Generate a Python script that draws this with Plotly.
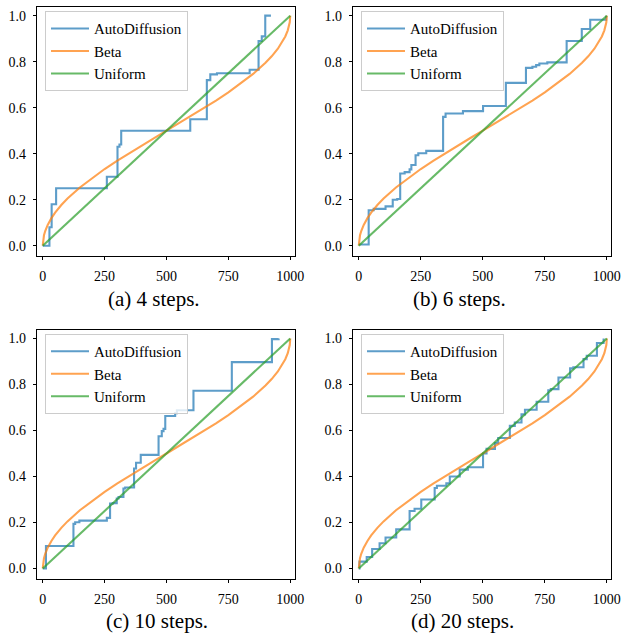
import plotly.graph_objects as go

# ---------------- data ----------------
captions = ["(a) 4 steps.", "(b) 6 steps.", "(c) 10 steps.", "(d) 20 steps."]
series_names = ["AutoDiffusion", "Beta", "Uniform"]

ad4_x = [0, 27, 36, 54, 259, 302, 310, 317, 596, 663, 677, 704, 836, 872, 885, 899, 922]
ad4_y = [0, 0.08, 0.18, 0.25, 0.30, 0.43, 0.44, 0.50, 0.55, 0.72, 0.745, 0.75, 0.765, 0.89, 0.91, 1.0, 1.0]

ad6_x = [0, 40, 60, 108, 137, 155, 167, 185, 205, 212, 229, 240, 272, 340, 350, 420, 501, 593, 674, 700, 715, 728, 760, 838, 899, 933, 997]
ad6_y = [0.005, 0.154, 0.16, 0.171, 0.20, 0.203, 0.314, 0.32, 0.332, 0.351, 0.393, 0.402, 0.412, 0.56, 0.575, 0.585, 0.607, 0.708, 0.773, 0.778, 0.785, 0.792, 0.797, 0.89, 0.942, 0.982, 1.0]

ad10_x = [0, 13, 124, 131, 148, 259, 272, 283, 299, 306, 326, 333, 369, 377, 396, 468, 481, 488, 495, 535, 542, 609, 764, 926, 953]
ad10_y = [0, 0.098, 0.194, 0.201, 0.208, 0.22, 0.282, 0.284, 0.304, 0.311, 0.348, 0.352, 0.435, 0.46, 0.494, 0.575, 0.597, 0.607, 0.663, 0.675, 0.688, 0.773, 0.897, 0.997, 1.0]

ad20_x = [0, 3, 32, 54, 84, 108, 151, 205, 225, 252, 306, 315, 353, 367, 407, 440, 501, 515, 549, 562, 609, 629, 656, 670, 717, 764, 774, 805, 852, 865, 906, 919, 960, 987]
ad20_y = [0, 0.03, 0.05, 0.085, 0.11, 0.135, 0.17, 0.25, 0.26, 0.30, 0.35, 0.36, 0.37, 0.40, 0.43, 0.44, 0.50, 0.52, 0.545, 0.567, 0.62, 0.635, 0.67, 0.69, 0.725, 0.775, 0.78, 0.83, 0.87, 0.875, 0.91, 0.925, 0.98, 1.0]

beta_x = [0, 2, 5, 10, 20, 35, 50, 75, 100, 150, 200, 250, 300, 350, 400, 450, 500,
          550, 600, 650, 700, 750, 800, 850, 900, 925, 950, 965, 980, 990, 995, 998, 1000]
beta_y = [0, 0.0285, 0.0451, 0.0638, 0.0903, 0.1198, 0.1436, 0.1766, 0.2048, 0.2532, 0.2952, 0.3333, 0.3690, 0.4030, 0.4359, 0.4681, 0.5,
          0.5319, 0.5641, 0.5970, 0.6310, 0.6667, 0.7048, 0.7468, 0.7952, 0.8234, 0.8564, 0.8802, 0.9097, 0.9362, 0.9549, 0.9715, 1.0]

uni_x = [0, 1000]
uni_y = [0, 1]

x_ticks = [0, 250, 500, 750, 1000]
y_ticks = [0.0, 0.2, 0.4, 0.6, 0.8, 1.0]

ad_x = [ad4_x, ad6_x, ad10_x, ad20_x]
ad_y = [ad4_y, ad6_y, ad10_y, ad20_y]

# ---------------- layout ----------------
W, H = 627, 640
FONT = "Liberation Serif, Times New Roman, serif"
colors = ["rgba(31,119,180,0.72)", "rgba(255,127,14,0.72)", "rgba(44,160,44,0.72)"]

# panel frames in pixels (left, right, top, bottom)
frames = [(37.3, 294.7, 6.7, 255.7), (353.3, 611.3, 6.7, 255.7),
          (37.3, 294.7, 329.5, 578.5), (353.3, 611.3, 329.5, 578.5)]
cap_pos = [(153.5, 299), (459.6, 299), (157, 621), (462.5, 621)]

fig = go.Figure()
layout = dict(width=W, height=H, margin=dict(l=0, r=0, t=0, b=0, autoexpand=False),
              plot_bgcolor="white", paper_bgcolor="white",
              font=dict(family=FONT, color="black"), annotations=[])

for i in range(4):
    k = "" if i == 0 else str(i + 1)
    xa, ya = "x" + k, "y" + k
    lg = "legend" + k
    fig.add_trace(go.Scatter(x=ad_x[i], y=ad_y[i], mode="lines", line=dict(color=colors[0], width=2.1, shape="hv"),
                             name=series_names[0], xaxis=xa, yaxis=ya, legend=lg))
    fig.add_trace(go.Scatter(x=beta_x, y=beta_y, mode="lines", line=dict(color=colors[1], width=2.1),
                             name=series_names[1], xaxis=xa, yaxis=ya, legend=lg))
    fig.add_trace(go.Scatter(x=uni_x, y=uni_y, mode="lines", line=dict(color=colors[2], width=2.1),
                             name=series_names[2], xaxis=xa, yaxis=ya, legend=lg))
    l, r, t, b = frames[i]
    common = dict(showline=True, mirror=True, linecolor="black", linewidth=1, showgrid=False, zeroline=False,
                  ticks="outside", ticklen=3.5, tickwidth=0.8, tickcolor="black",
                  tickfont=dict(family=FONT, size=14, color="black"))
    layout["xaxis" + k] = dict(domain=[l / W, r / W], range=[-22, 1018], tickvals=x_ticks,
                               anchor=ya, ticklabelstandoff=4, **common)
    layout["yaxis" + k] = dict(domain=[1 - b / H, 1 - t / H], range=[-0.0435, 1.039], tickvals=y_ticks,
                               tickformat=".1f", anchor=xa, ticklabelstandoff=4, **common)
    layout[lg] = dict(x=(l + 7.7) / W, y=1 - (t + 4.5) / H, xanchor="left", yanchor="top",
                      bgcolor="rgba(255,255,255,0.8)", bordercolor="#cccccc", borderwidth=1,
                      itemwidth=38,
                      font=dict(family=FONT, size=15, color="black"))
    cx, cy = cap_pos[i]
    layout["annotations"].append(dict(text=captions[i], x=cx / W, y=1 - cy / H, xref="paper", yref="paper",
                                      showarrow=False, xanchor="center", yanchor="middle",
                                      font=dict(family=FONT, size=21, color="black")))

fig.update_layout(**layout)
fig.write_html("out.html", config={"displayModeBar": False},
               post_script="document.body.style.margin='0px';document.body.style.overflow='hidden';")
